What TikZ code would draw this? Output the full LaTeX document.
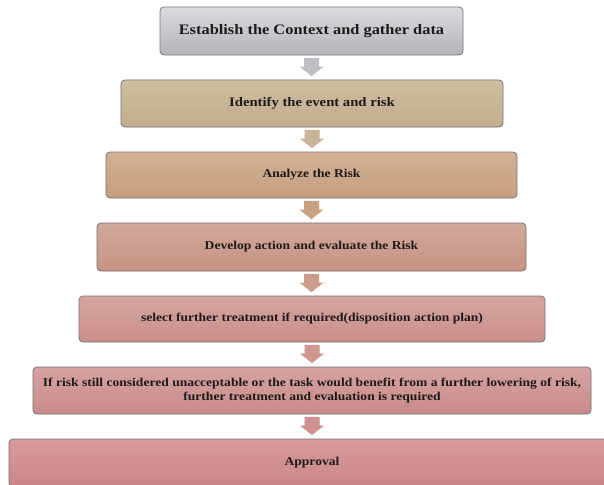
\documentclass[tikz,border=0pt]{standalone}
\usepackage{fontspec}
\setmainfont[FakeStretch=1.13]{Liberation Serif}
\usetikzlibrary{calc}
\definecolor{boxline}{HTML}{757373}
\definecolor{txt}{HTML}{1E1A1A}
\definecolor{t1}{HTML}{DCDCE0}\definecolor{u1}{HTML}{B4B4B8}
\definecolor{t2}{HTML}{CFBEA2}\definecolor{u2}{HTML}{C2AC8C}
\definecolor{t3}{HTML}{D2B196}\definecolor{u3}{HTML}{C69E7E}
\definecolor{t4}{HTML}{D2A99A}\definecolor{u4}{HTML}{C69283}
\definecolor{t5}{HTML}{D6A5A1}\definecolor{u5}{HTML}{C98F8B}
\definecolor{t6}{HTML}{D7A2A2}\definecolor{u6}{HTML}{C98B8B}
\definecolor{t7}{HTML}{D89A9C}\definecolor{u7}{HTML}{C98688}
\definecolor{a1}{HTML}{BFBFC3}
\definecolor{a2}{HTML}{C8B497}
\definecolor{a3}{HTML}{C9A080}
\definecolor{a4}{HTML}{CC9C8C}
\definecolor{a5}{HTML}{D09690}
\definecolor{a6}{HTML}{CF9092}
\newcommand{\downblock}[3]{%
  \fill[#3] let \p1=($(#1.south)+(0,2.5)$), \p2=($(#2.north)+(0,-3.5)$) in
    (\x1-7.5pt,\y1) -- (\x1+7.5pt,\y1) -- (\x1+7.5pt,\y2+9.5pt) -- (\x1+12pt,\y2+9.5pt)
    -- (\x1,\y2) -- (\x1-12pt,\y2+9.5pt) -- (\x1-7.5pt,\y2+9.5pt) -- cycle;}
\begin{document}
\begin{tikzpicture}[x=1pt,y=-1pt,
  stepbox/.style 2 args={draw=boxline, line width=0.8pt, rounded corners=4pt,
    top color=#1, bottom color=#2, text=txt, align=center, inner sep=2pt,
    font=\fontsize{12}{13.5}\selectfont\bfseries}]
\useasboundingbox (0,0) rectangle (604,484);
\fill[white] (0,0) rectangle (604,484);
\clip (0,0) rectangle (604,484);

\node[stepbox={t1}{u1}, minimum width=303pt, minimum height=48pt,
  font=\fontsize{14.5}{16}\selectfont\bfseries] (b1) at (311.5,31)
  {Establish the Context and gather data};
\node[stepbox={t2}{u2}, minimum width=382pt, minimum height=47pt,
  font=\fontsize{13}{15}\selectfont\bfseries] (b2) at (312,103.5)
  {Identify the event and risk};
\node[stepbox={t3}{u3}, minimum width=411pt, minimum height=46pt] (b3) at (311.5,175)
  {Analyze the Risk};
\node[stepbox={t4}{u4}, minimum width=429pt, minimum height=48pt] (b4) at (311.5,247)
  {Develop action and evaluate the Risk};
\node[stepbox={t5}{u5}, minimum width=466pt, minimum height=46pt] (b5) at (312,319)
  {select further treatment if required(disposition action plan)};
\node[stepbox={t6}{u6}, minimum width=558pt, minimum height=47pt] (b6) at (312,390.5)
  {If risk still considered unacceptable or the task would benefit from a further lowering of risk,\\
   further treatment and evaluation is required};
\node[stepbox={t7}{u7}, minimum width=606pt, minimum height=48pt] (b7) at (312,463)
  {Approval};

\downblock{b1}{b2}{a1}
\downblock{b2}{b3}{a2}
\downblock{b3}{b4}{a3}
\downblock{b4}{b5}{a4}
\downblock{b5}{b6}{a5}
\downblock{b6}{b7}{a6}
\end{tikzpicture}
\end{document}
